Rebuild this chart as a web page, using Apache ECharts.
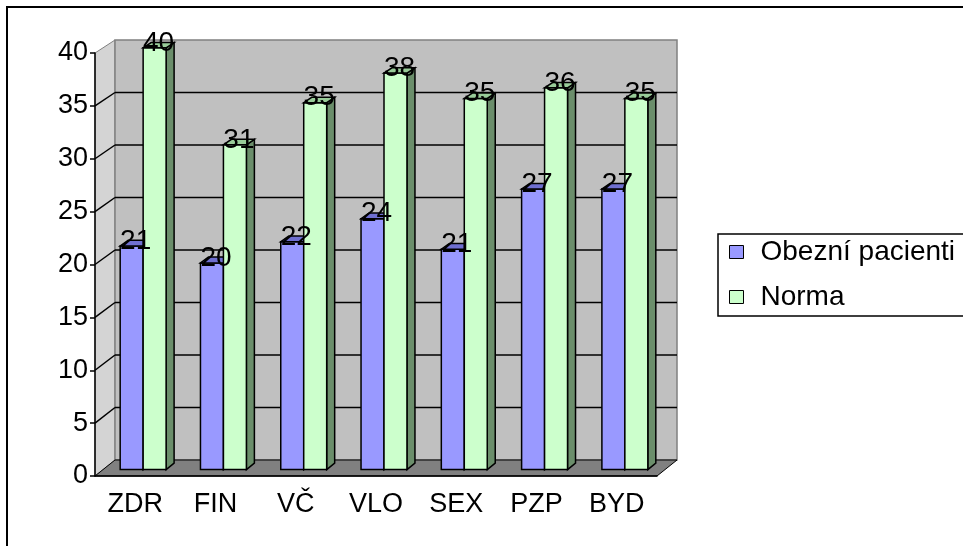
<!DOCTYPE html>
<html>
<head>
<meta charset="utf-8">
<script src="https://cdn.jsdelivr.net/npm/echarts@6/dist/echarts.min.js"></script>
<style>
html,body{margin:0;padding:0;background:#fff;}
#chart{width:963px;height:546px;}
</style>
</head>
<body>
<div id="chart"></div>
<script>
var categories=['ZDR','FIN','VČ','VLO','SEX','PZP','BYD'];
var obezni=[21.2,19.6,21.6,23.8,20.9,26.6,26.6];
var norma=[40,30.8,34.8,37.6,35.2,36.2,35.2];
var yMax=40, yStep=5;

var FONT='"Liberation Sans", Arial, sans-serif';
var DEPTH_X=20;
// point in 3d box: d=0 front plane, d=1 back wall
function pt(api,xpx,v,d){
  var y=api.coord([0,v])[1];
  return [xpx+DEPTH_X*d, y+d*(-16+3*v/yMax)];
}

function renderWalls(params,api){
  var band=api.size([1,0])[0];
  var x0=api.coord([0,0])[0]-band/2;
  var x1=api.coord([categories.length-1,0])[0]+band/2;
  var ch=[];
  ch.push({type:'polygon',shape:{points:[pt(api,x0,0,0),pt(api,x0,yMax,0),pt(api,x0,yMax,1),pt(api,x0,0,1)]},
    style:{fill:'#d4d4d4',stroke:'#808080',lineWidth:1}});
  ch.push({type:'polygon',shape:{points:[pt(api,x0,0,1),pt(api,x0,yMax,1),pt(api,x1,yMax,1),pt(api,x1,0,1)]},
    style:{fill:'#c0c0c0',stroke:'#808080',lineWidth:1.5}});
  ch.push({type:'polygon',shape:{points:[pt(api,x0,0,0),pt(api,x0,0,1),pt(api,x1,0,1),pt(api,x1,0,0)]},
    style:{fill:'#808080',stroke:'#000',lineWidth:1}});
  for(var v=yStep;v<yMax;v+=yStep){
    var a=pt(api,x0,v,0),b=pt(api,x0,v,1),c=pt(api,x1,v,1);
    ch.push({type:'line',shape:{x1:a[0],y1:a[1],x2:b[0],y2:b[1]},style:{stroke:'#000',lineWidth:1.5}});
    ch.push({type:'line',shape:{x1:b[0],y1:b[1],x2:c[0],y2:c[1]},style:{stroke:'#000',lineWidth:1.5}});
  }
  return {type:'group',children:ch};
}

function barRenderer(side,face,top,sideCol){
  return function(params,api){
    var i=api.value(0),v=api.value(1);
    var band=api.size([1,0])[0];
    var w=band*0.286;
    var cx=api.coord([i,0])[0];
    var xl=side===0?cx-w:cx, xr=xl+w;
    var dF=0.4,dB=0.8;
    var style={stroke:'#000',lineWidth:1.5};
    var ch=[];
    ch.push({type:'polygon',shape:{points:[pt(api,xr,0,dF),pt(api,xr,v,dF),pt(api,xr,v,dB),pt(api,xr,0,dB)]},
      style:Object.assign({fill:sideCol},style)});
    ch.push({type:'polygon',shape:{points:[pt(api,xl,0,dF),pt(api,xl,v,dF),pt(api,xr,v,dF),pt(api,xr,0,dF)]},
      style:Object.assign({fill:face},style)});
    ch.push({type:'polygon',shape:{points:[pt(api,xl,v,dF),pt(api,xr,v,dF),pt(api,xr,v,dB),pt(api,xl,v,dB)]},
      style:Object.assign({fill:top},style)});
    var p=pt(api,(xl+xr)/2+4,v,dF);
    ch.push({type:'text',z2:100,style:{text:String(Math.round(v)),x:p[0],y:p[1]-5,fill:'#000',
      fontSize:28,fontFamily:FONT,align:'center',verticalAlign:'middle'}});
    return {type:'group',children:ch};
  };
}

function toData(arr){
  var out=[];
  for(var i=0;i<arr.length;i++){out.push([i,arr[i]]);}
  return out;
}

var chart=echarts.init(document.getElementById('chart'));
chart.setOption({
  backgroundColor:'#fff',
  animation:false,
  textStyle:{fontFamily:FONT},
  graphic:[{type:'rect',shape:{x:7,y:7,width:1000,height:1000},style:{fill:'none',stroke:'#000',lineWidth:2},z:0}],
  legend:{
    data:['Obezní pacienti','Norma'],
    orient:'vertical',left:718,top:234,
    padding:[4,30,5,11],itemGap:17,
    itemWidth:14,itemHeight:13,icon:'rect',
    itemStyle:{borderColor:'#000',borderWidth:1},
    backgroundColor:'#fff',borderColor:'#000',borderWidth:1.5,
    textStyle:{fontSize:28,color:'#000',fontFamily:FONT,padding:[0,0,0,12]}
  },
  grid:{left:95,top:53,width:562,height:423},
  xAxis:{
    type:'category',data:categories,z:5,
    axisLine:{lineStyle:{color:'#000',width:1.5}},
    axisTick:{length:5,lineStyle:{color:'#000',width:1.5}},
    axisLabel:{fontSize:27,color:'#000',margin:15,fontFamily:FONT}
  },
  yAxis:{
    type:'value',min:0,max:yMax,interval:yStep,z:5,
    axisLine:{show:true,lineStyle:{color:'#000',width:1.5}},
    axisTick:{show:true,length:5,lineStyle:{color:'#000',width:1.5}},
    axisLabel:{fontSize:27,color:'#000',margin:7,fontFamily:FONT},
    splitLine:{show:false}
  },
  series:[
    {type:'custom',name:'walls',silent:true,z:1,renderItem:renderWalls,data:[[0,0]]},
    {type:'custom',name:'Obezní pacienti',z:3,itemStyle:{color:'#9999ff'},
      renderItem:barRenderer(0,'#9999ff','#6f6fd0','#5f5fa8'),data:toData(obezni)},
    {type:'custom',name:'Norma',z:3,itemStyle:{color:'#ccffcc'},
      renderItem:barRenderer(1,'#ccffcc','#99cc99','#6b8e6b'),data:toData(norma)}
  ]
});
</script>
</body>
</html>
